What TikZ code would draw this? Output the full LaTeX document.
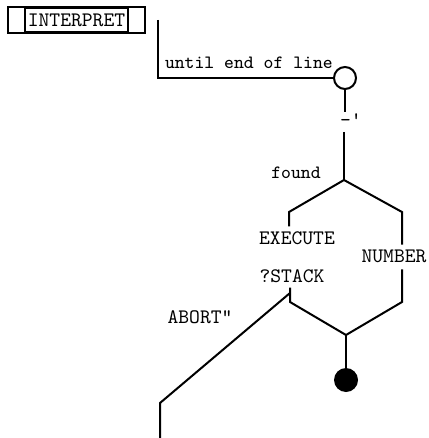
\documentclass[tikz,border=0pt]{standalone}
\usepackage{fontspec}
\usepackage{tikz}
\usetikzlibrary{positioning, calc}

\begin{document}
\begin{tikzpicture}[x=0.5pt, y=-0.5pt, line width=1pt,
    word/.style={font=\ttfamily\fontsize{10.3}{12}\selectfont, inner sep=0pt},
    note/.style={font=\ttfamily\fontsize{9.4}{11}\selectfont, inner sep=0pt}]
    \useasboundingbox (0,0) rectangle (428,438);
    % word header
    \node[word, draw, line width=0.8pt, minimum width=51.5pt, minimum height=12pt] (interp) at (76.5,20) {INTERPRET};
    \draw[line width=0.8pt] ([xshift=-8pt]interp.north west) rectangle ([xshift=8pt]interp.south east);
    % loop until end of line
    \coordinate (start) at (158,20);
    \node[draw, circle, minimum size=11pt, inner sep=0pt] (loop) at (345,78) {};
    \coordinate (corner) at (start |- loop.west);
    \draw (start) -- (corner) -- (loop.west);
    \node[note, anchor=base west] (until) at (164,69) {until end of line};
    % fetch next word
    \node[word, anchor=base west] (tick) at (339,127) {-'};
    \coordinate (fork) at (344,180);
    \draw (loop.south) -- (loop.south |- 0,112);
    \draw (fork |- 0,132) -- (fork);
    \node[note] (found) at (296,173) {found};
    % found: execute, else number
    \coordinate (lbend) at (289,212);
    \coordinate (rbend) at (402,212);
    \node[word] (exec) at (297,238) {EXECUTE};
    \node[word] (num) at (394,256) {NUMBER};
    \draw (lbend |- exec.north) ++(0,-4) -- (lbend) -- (fork) -- (rbend) -- ($(rbend |- num.north)+(0,-4)$);
    % check the stack
    \node[word] (stack) at (292,276) {?STACK};
    \coordinate (sbend) at (290,302);
    \coordinate (abranch) at (290,293);
    \coordinate (nbend) at (402,302);
    \coordinate (merge) at (346,335);
    \draw ($(sbend |- stack.south)+(0,4)$) -- (sbend) -- (merge) -- (nbend) -- ($(nbend |- num.south)+(0,6)$);
    \fill (346,380) circle (6pt) coordinate (done);
    \draw (merge) -- (done);
    % error exit
    \node[word] (abort) at (200,317) {ABORT"};
    \coordinate (abend) at (160,403);
    \coordinate (aend) at (160,440);
    \draw (abranch) -- (abend) -- (aend);
\end{tikzpicture}
\end{document}
